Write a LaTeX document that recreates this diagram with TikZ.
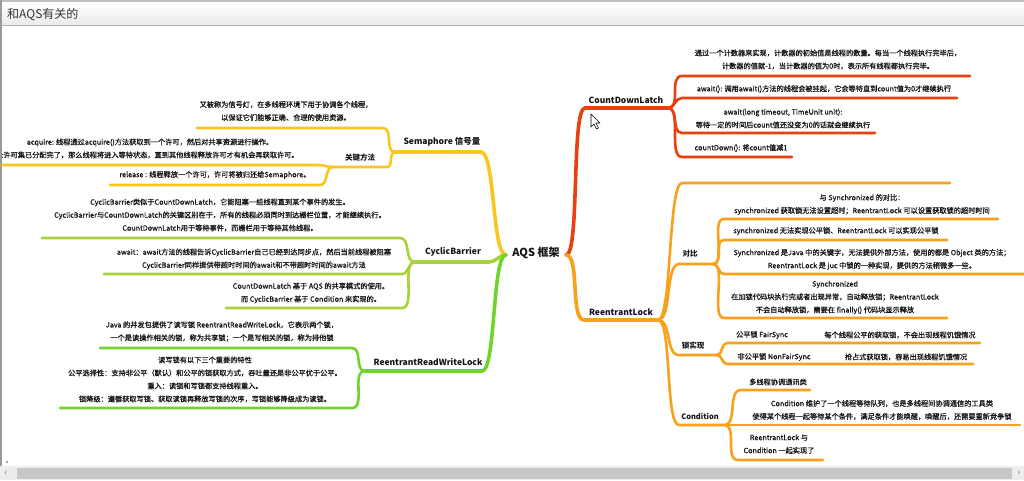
\documentclass[tikz,border=0pt]{standalone}
\usepackage{fontspec}
\setmainfont{Noto Sans CJK SC}
\newfontfamily\detailfont{Noto Sans CJK SC}[FakeBold=0.7]
\usetikzlibrary{positioning}

\definecolor{semcol}{HTML}{F8C61E}
\definecolor{cyccol}{HTML}{A9D23A}
\definecolor{rwcol}{HTML}{70D42B}
\definecolor{cdlcol}{HTML}{E8400E}
\definecolor{rlcol}{HTML}{F9A11B}
\definecolor{inkcol}{HTML}{141414}

\begin{document}
\begin{tikzpicture}[x=1pt,y=-1pt,
  root/.style={font=\bfseries\fontsize{11}{13}\selectfont, text=inkcol, inner sep=0pt},
  lbl/.style={font=\bfseries\fontsize{8.5}{10}\selectfont, text=inkcol, inner sep=0pt},
  sub/.style={font=\bfseries\fontsize{7.5}{9}\selectfont, text=inkcol, inner sep=0pt},
  txt/.style={font=\detailfont\fontsize{7.2}{13}\selectfont, text=inkcol, align=center, inner sep=0pt},
  trunk/.style={line width=3.6pt, line cap=round},
  twig/.style={line width=2.6pt, line cap=round},
  lbr/.style={out=180, in=0, max distance=14pt},
  rbr/.style={out=0, in=180, max distance=14pt}]

\useasboundingbox (0,0) rectangle (1024,480);

% -------------------------------------------------
% Window
% -------------------------------------------------
\fill[white] (0,0) rectangle (1024,480);
\fill[top color=white, bottom color=black!8] (0,3) rectangle (1024,25);
\draw[black!25, line width=2pt] (0,1) -- (1024,1);
\draw[black!30] (0,25) -- (1024,25);
\draw[black!40, line width=2pt] (1,0) -- (1,466);
\node[anchor=west, font=\fontsize{12}{14}\selectfont, text=black!80, inner sep=0pt] (title) at (7,15) {和AQS有关的};

% scroll bar
\fill[black!7] (0,466) rectangle (1024,480);
\fill[black!22] (17,468) rectangle (1012,479);
\node[font=\fontsize{9}{9}\selectfont, text=black!60] (sbl) at (6,473) {‹};
\node[font=\fontsize{9}{9}\selectfont, text=black!60] (sbr) at (1019,473) {›};
\fill[black!70] (7,462) circle (0.8);

% -------------------------------------------------
% Centre
% -------------------------------------------------
\node[root] (aqs) at (536,253) {AQS 框架};
\coordinate (aqsL) at (506,255);
\coordinate (aqsR) at (566,255);

% -------------------------------------------------
% Semaphore
% -------------------------------------------------
\coordinate (semL) at (395,152);  \coordinate (semR) at (481,152);
\coordinate (semaL) at (197,128); \coordinate (semaR) at (383,128);
\coordinate (keyL) at (333,167);  \coordinate (keyR) at (387,167);
\coordinate (acqL) at (2,165);    \coordinate (acqR) at (318,165);
\coordinate (relL) at (110,185);  \coordinate (relR) at (320,185);

\draw[trunk, semcol] (aqsL) to[lbr] (semR) -- (semL);
\draw[twig, semcol] (semL) to[lbr] (semaR) -- (semaL);
\draw[twig, semcol] (semL) to[lbr] (keyR) -- (keyL);
\draw[twig, semcol] (keyL) to[lbr] (acqR) -- (acqL);
\draw[twig, semcol] (keyL) to[lbr] (relR) -- (relL);

\node[lbl] (sem) at (442,142) {Semaphore 信号量};
\node[txt] (sema) at (286,111) {又被称为信号灯，在多线程环境下用于协调各个线程，\\以保证它们能够正确、合理的使用资源。};
\node[sub] (key) at (360,158) {关键方法};
\node[txt] (acq) at (150,148.5) {acquire: 线程通过acquire()方法获取到一个许可，然后对共享资源进行操作。\\:许可集已分配完了，那么线程将进入等待状态，直到其他线程释放许可才有机会再获取许可。};
\node[txt] (rel) at (215,175) {release : 线程释放一个许可，许可将被归还给Semaphore。};

% -------------------------------------------------
% CyclicBarrier
% -------------------------------------------------
\coordinate (cycL) at (415,262);  \coordinate (cycR) at (489,262);
\coordinate (cycaL) at (42,238);  \coordinate (cycaR) at (400,238);
\coordinate (cycbL) at (104,274); \coordinate (cycbR) at (402,274);
\coordinate (cyccL) at (226,308); \coordinate (cyccR) at (402,308);

\draw[trunk, cyccol] (aqsL) to[lbr] (cycR) -- (cycL);
\draw[twig, cyccol] (cycL) to[lbr] (cycaR) -- (cycaL);
\draw[twig, cyccol] (cycL) to[lbr] (cycbR) -- (cycbL);
\draw[twig, cyccol] (cycL) to[lbr] (cyccR) -- (cyccL);

\node[lbl] (cyc) at (453,252) {CyclicBarrier};
\node[txt] (cyca) at (220,215) {CyclicBarrier类似于CountDownLatch，它能阻塞一组线程直到某个事件的发生。\\CyclicBarrier与CountDownLatch的关键区别在于，所有的线程必须同时到达栅栏位置，才能继续执行。\\CountDownLatch用于等待事件，而栅栏用于等待其他线程。};
\node[txt] (cycb) at (254,259) {await：await方法的线程告诉CyclicBarrier自己已经到达同步点，然后当前线程被阻塞\\CyclicBarrier同样提供带超时时间的await和不带超时时间的await方法};
\node[txt] (cycc) at (311,293) {CountDownLatch 基于 AQS 的共享模式的使用。\\而 CyclicBarrier 基于 Condition 来实现的。};

% -------------------------------------------------
% ReentrantReadWriteLock
% -------------------------------------------------
\coordinate (rwL) at (365,371);   \coordinate (rwR) at (482,371);
\coordinate (rwaL) at (100,348);  \coordinate (rwaR) at (352,348);
\coordinate (rwbL) at (60,408);   \coordinate (rwbR) at (352,408);

\draw[trunk, rwcol] (aqsL) to[lbr] (rwR) -- (rwL);
\draw[twig, rwcol] (rwL) to[lbr] (rwaR) -- (rwaL);
\draw[twig, rwcol] (rwL) to[lbr] (rwbR) -- (rwbL);

\node[lbl] (rw) at (428,362) {ReentrantReadWriteLock};
\node[txt] (rwa) at (222,331.5) {Java 的并发包提供了读写锁 ReentrantReadWriteLock，它表示两个锁，\\一个是读操作相关的锁，称为共享锁；一个是写相关的锁，称为排他锁};
\node[txt] (rwb) at (205,379.5) {读写锁有以下三个重要的特性\\公平选择性：支持非公平（默认）和公平的锁获取方式，吞吐量还是非公平优于公平。\\重入：读锁和写锁都支持线程重入。\\锁降级：遵循获取写锁、获取读锁再释放写锁的次序，写锁能够降级成为读锁。};

% -------------------------------------------------
% CountDownLatch
% -------------------------------------------------
\coordinate (cdlL) at (585,108);  \coordinate (cdlR) at (668,108);
\coordinate (cdlaL) at (682,76);  \coordinate (cdlaR) at (970,76);
\coordinate (cdlbL) at (682,98);  \coordinate (cdlbR) at (957,98);
\coordinate (cdlcL) at (682,133); \coordinate (cdlcR) at (875,133);
\coordinate (cdldL) at (682,157); \coordinate (cdldR) at (792,157);

\draw[trunk, cdlcol] (aqsR) to[rbr] (cdlL) -- (cdlR);
\draw[twig, cdlcol] (cdlR) to[rbr] (cdlaL) -- (cdlaR);
\draw[twig, cdlcol] (cdlR) to[rbr] (cdlbL) -- (cdlbR);
\draw[twig, cdlcol] (cdlR) to[rbr] (cdlcL) -- (cdlcR);
\draw[twig, cdlcol] (cdlR) to[rbr] (cdldL) -- (cdldR);

\node[lbl] (cdl) at (626,100) {CountDownLatch};
\node[txt] (cdla) at (828,59.5) {通过一个计数器来实现，计数器的初始值是线程的数量。每当一个线程执行完毕后，\\计数器的值就-1，当计数器的值为0时，表示所有线程都执行完毕。};
\node[txt] (cdlb) at (824,89) {await(): 调用await()方法的线程会被挂起，它会等待直到count值为0才继续执行};
\node[txt] (cdlc) at (783,118.5) {await(long timeout, TimeUnit unit):\\等待一定的时间后count值还没变为0的话就会继续执行};
\node[txt] (cdld) at (741,148) {countDown(): 将count值减1};

% -------------------------------------------------
% ReentrantLock
% -------------------------------------------------
\coordinate (rlL) at (584,320);   \coordinate (rlR) at (658,320);
\coordinate (rleL) at (682,183);  \coordinate (rleR) at (950,183);
\coordinate (cmpL) at (679,264);  \coordinate (cmpR) at (713,264);
\coordinate (lckL) at (679,355);  \coordinate (lckR) at (717,355);
\coordinate (condL) at (679,425); \coordinate (condR) at (724,425);

\draw[trunk, rlcol] (aqsR) to[rbr] (rlL) -- (rlR);
\draw[twig, rlcol] (rlR) to[rbr] (rleL) -- (rleR);
\draw[twig, rlcol] (rlR) to[rbr] (cmpL) -- (cmpR);
\draw[twig, rlcol] (rlR) to[rbr] (lckL) -- (lckR);
\draw[twig, rlcol] (rlR) to[rbr] (condL) -- (condR);

\node[lbl] (rl) at (621,312) {ReentrantLock};
\node[sub] (cmp) at (690,254) {对比};
\node[sub] (lck) at (693,346) {锁实现};
\node[sub] (cond) at (700,416) {Condition};

% 对比
\coordinate (cmpaL) at (724,219); \coordinate (cmpaR) at (998,219);
\coordinate (cmpbL) at (724,240); \coordinate (cmpbR) at (947,240);
\coordinate (cmpcL) at (724,274); \coordinate (cmpcR) at (1024,274);
\coordinate (cmpdL) at (724,318); \coordinate (cmpdR) at (947,318);

\draw[twig, rlcol] (cmpR) to[rbr] (cmpaL) -- (cmpaR);
\draw[twig, rlcol] (cmpR) to[rbr] (cmpbL) -- (cmpbR);
\draw[twig, rlcol] (cmpR) to[rbr] (cmpcL) -- (cmpcR);
\draw[twig, rlcol] (cmpR) to[rbr] (cmpdL) -- (cmpdR);

\node[txt] (cmpa) at (862,204.5) {与 Synchronized 的对比：\\synchronized 获取锁无法设置超时；ReentrantLock 可以设置获取锁的超时时间};
\node[txt] (cmpb) at (836,231) {synchronized 无法实现公平锁、ReentrantLock 可以实现公平锁};
\node[txt] (cmpc) at (872,259.5) {Synchronized 是Java 中的关键字，无法提供外部方法，使用的都是 Object 类的方法；\\ReentrantLock 是 juc 中锁的一种实现，提供的方法稍微多一些。};
\node[txt] (cmpd) at (835,297.5) {Synchronized\\在加锁代码块执行完或者出现异常，自动释放锁；ReentrantLock\\不会自动释放锁，需要在 finally() 代码块显示释放};

% 锁实现
\coordinate (fairL) at (727,343);  \coordinate (fairR) at (812,343);
\coordinate (fairaR) at (980,343);
\coordinate (nfairL) at (727,364); \coordinate (nfairR) at (835,364);
\coordinate (nfairaR) at (973,364);

\draw[twig, rlcol] (lckR) to[rbr] (fairL) -- (fairR) -- (fairaR);
\draw[twig, rlcol] (lckR) to[rbr] (nfairL) -- (nfairR) -- (nfairaR);

\node[txt] (fair) at (762,335) {公平锁 FairSync};
\node[txt] (faira) at (900,335) {每个线程公平的获取锁，不会出现线程饥饿情况};
\node[txt] (nfair) at (774,357) {非公平锁 NonFairSync};
\node[txt] (nfaira) at (906,357) {抢占式获取锁，容易出现线程饥饿情况};

% Condition
\coordinate (condaL) at (741,390); \coordinate (condaR) at (810,390);
\coordinate (condbR) at (1020,425);
\coordinate (condcL) at (738,460); \coordinate (condcR) at (823,460);

\draw[twig, rlcol] (condR) to[rbr] (condaL) -- (condaR);
\draw[twig, rlcol] (condR) -- (condbR);
\draw[twig, rlcol] (condR) to[rbr] (condcL) -- (condcR);

\node[txt] (conda) at (778,382) {多线程协调通讯类};
\node[txt] (condb) at (882,410) {Condition 维护了一个线程等待队列，也是多线程间协调通信的工具类\\使得某个线程一起等待某个条件，满足条件才能唤醒，唤醒后，还需要重新竞争锁};
\node[txt] (condc) at (779,444) {ReentrantLock 与\\Condition 一起实现了};

% -------------------------------------------------
% Pointer
% -------------------------------------------------
\draw[fill=white, line width=0.6pt, line join=round] (591,114) -- ++(0,13) -- ++(3,-3) -- ++(2.5,5) -- ++(2,-1) -- ++(-2.5,-5) -- ++(4,0) -- cycle;

\end{tikzpicture}
\end{document}
